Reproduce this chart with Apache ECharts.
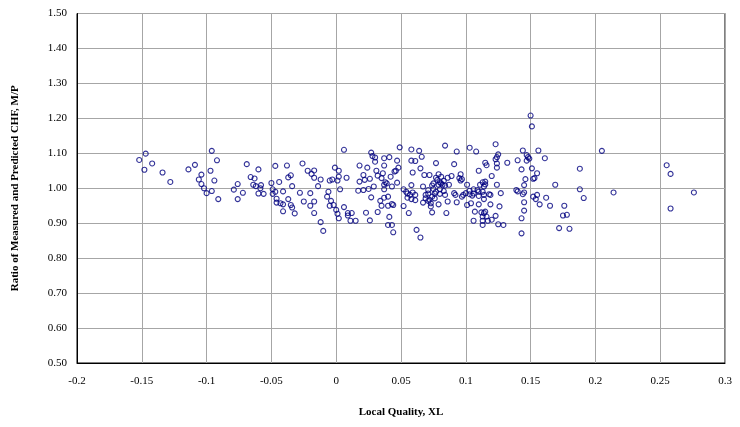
<!DOCTYPE html>
<html>
<head>
<meta charset="utf-8">
<script src="https://cdn.jsdelivr.net/npm/echarts@6/dist/echarts.min.js"></script>
<style>html,body{margin:0;padding:0;background:#fff}#c{width:740px;height:427px}</style>
</head>
<body>
<div id="c"></div>
<script>
// Local quality XL (x) and measured/predicted CHF ratio (y)
const xlValues = [
-0.152,-0.147,-0.148,-0.142,-0.134,-0.128,-0.114,-0.109,-0.104,-0.106,-0.104,-0.102,-0.100,-0.096,-0.092,-0.097,-0.094,-0.096,-0.091,-0.079,-0.076,-0.076,-0.072,-0.069,-0.066,-0.063,-0.064,-0.062,-0.060,-0.060,
-0.058,-0.0585,-0.056,-0.047,-0.050,-0.044,-0.049,-0.049,-0.047,-0.046,-0.046,-0.043,-0.041,-0.041,-0.041,-0.038,-0.035,-0.037,-0.034,-0.037,-0.035,-0.034,-0.032,-0.028,-0.026,-0.025,-0.022,-0.020,-0.020,-0.019,-0.017,-0.017,-0.012,-0.014,-0.017,-0.017,-0.012,-0.010,-0.006,-0.007,-0.005,-0.003,-0.004,-0.002,-0.005,-0.001,0.000,
0.006,0.002,0.002,0.001,0.003,0.001,0.002,0.006,0.008,0.009,0.009,0.012,0.011,0.015,0.018,0.018,0.017,0.021,0.021,0.022,0.024,0.025,0.026,0.023,0.026,0.027,0.027,0.028,0.030,0.030,0.029,0.031,0.032,0.032,0.035,0.034,0.035,0.036,0.037,0.037,0.038,0.037,0.039,0.037,0.037,0.041,0.041,0.040,0.042,0.040,0.043,0.044,0.040,0.043,0.044,0.043,0.047,0.046,0.045,0.048,0.047,0.049,
0.058,0.064,0.066,0.058,0.061,0.059,0.065,0.068,0.072,0.077,0.084,0.058,0.052,0.054,0.055,0.059,0.061,0.057,0.055,0.058,0.061,0.052,0.056,0.062,0.065,0.067,0.067,0.069,0.069,0.071,0.071,0.071,0.072,0.073,0.074,0.073,0.074,0.075,0.075,0.074,0.077,0.076,0.076,0.077,0.079,0.078,0.079,0.080,0.080,0.080,0.079,0.081,0.081,0.082,0.083,0.084,0.083,0.084,0.086,0.085,0.086,0.087,
0.093,0.103,0.108,0.091,0.089,0.096,0.095,0.097,0.096,0.101,0.091,0.092,0.093,0.097,0.098,0.100,0.103,0.106,0.109,0.103,0.105,0.106,0.110,0.113,0.114,0.110,0.111,0.113,0.115,0.114,0.115,0.118,0.110,0.115,0.116,0.101,0.104,0.110,0.114,0.107,0.112,0.114,0.115,0.113,0.116,0.117,0.113,0.106,0.113,
0.150,0.151,0.123,0.125,0.124,0.123,0.124,0.124,0.120,0.124,0.119,0.127,0.119,0.126,0.123,0.120,0.125,0.129,0.132,0.140,0.144,0.147,0.148,0.149,0.147,0.156,0.161,0.143,0.151,0.155,0.146,0.153,0.152,0.145,0.169,0.139,0.140,0.145,0.144,0.152,0.155,0.154,0.162,0.157,0.165,0.145,0.145,0.143,0.143,0.176,0.175,0.178,0.172,0.180,0.188,0.188,0.191,0.205,0.214,
0.255,0.258,0.258,0.276
];
const ratioValues = [
1.081,1.099,1.053,1.071,1.045,1.018,1.054,1.067,1.039,1.025,1.012,1.000,0.986,1.107,1.080,1.050,1.022,0.992,0.969,0.996,1.012,0.969,0.987,1.069,1.032,1.028,1.010,1.006,0.985,1.054,
1.009,1.000,0.984,1.064,1.015,1.018,0.997,0.984,0.990,0.970,0.959,0.957,0.991,0.954,0.934,1.065,1.037,1.031,1.006,0.969,0.952,0.945,0.928,0.987,1.071,0.962,1.050,0.986,0.950,1.041,1.051,1.030,1.025,1.006,0.962,0.929,0.903,0.878,0.990,0.976,1.022,1.025,0.964,0.952,0.950,1.059,0.938,
1.110,1.050,1.033,1.022,0.997,0.927,0.914,0.946,1.030,0.929,0.922,0.929,0.907,0.907,1.065,1.019,0.993,0.995,1.038,1.024,1.059,0.998,1.027,0.930,0.908,0.974,1.102,1.092,1.088,1.076,1.005,1.050,1.036,0.932,1.029,0.964,0.950,1.043,1.086,1.065,1.017,1.010,1.014,0.997,0.973,0.918,1.089,0.976,1.033,0.950,0.955,0.952,0.895,0.895,0.874,1.005,1.079,1.050,1.048,1.059,1.016,1.117,
1.111,1.107,1.090,1.079,1.078,1.045,1.057,1.038,1.038,1.072,1.122,1.009,0.997,0.990,0.985,0.988,0.981,0.981,0.973,0.969,0.966,0.949,0.929,0.881,0.859,1.005,0.959,0.981,0.971,0.995,0.985,0.964,0.967,0.957,0.976,0.948,0.931,0.998,1.014,1.008,0.990,0.985,0.971,1.030,1.040,1.024,1.010,1.017,0.997,0.984,0.954,1.033,1.014,1.010,1.021,1.008,0.992,0.981,0.962,0.929,1.030,1.010,
1.105,1.116,1.105,1.069,1.035,1.040,1.029,1.026,1.022,1.010,0.986,0.981,0.960,0.976,0.981,0.986,0.993,0.997,0.995,0.983,0.979,0.985,0.990,0.990,0.981,0.978,1.010,1.017,1.019,1.005,1.011,0.983,1.050,1.073,1.066,0.952,0.957,0.954,0.969,0.933,0.931,0.929,0.933,0.919,0.919,0.907,0.907,0.907,0.895,
1.208,1.177,1.126,1.097,1.089,1.083,1.071,1.059,1.035,1.010,0.981,0.986,0.954,0.948,0.921,0.910,0.897,0.895,1.073,1.080,1.108,1.095,1.089,1.085,1.079,1.108,1.086,1.054,1.057,1.043,1.026,1.029,1.027,1.009,1.010,0.995,0.991,0.988,0.983,0.976,0.981,0.969,0.973,0.954,0.950,0.960,0.936,0.914,0.871,0.950,0.922,0.924,0.886,0.884,1.056,0.997,0.972,1.107,0.988,
1.066,1.041,0.942,0.988
];
const xTickLabels = ['-0.2','-0.15','-0.1','-0.05','0','0.05','0.1','0.15','0.2','0.25','0.3'];
const yTickLabels = ['0.50','0.60','0.70','0.80','0.90','1.00','1.10','1.20','1.30','1.40','1.50'];
const xTitle = 'Local Quality, XL';
const yTitle = 'Ratio of Measured and Predicted CHF, M/P';

const points = xlValues.map((x, i) => [x, ratioValues[i]]);
const font = '"Liberation Serif", "Times New Roman", serif';
const chart = echarts.init(document.getElementById('c'), null, {renderer: 'canvas'});
chart.setOption({
  animation: false,
  backgroundColor: '#ffffff',
  grid: {left: 77, right: 15, top: 13.5, bottom: 64, show: true, borderColor: '#000', borderWidth: 1, backgroundColor: 'transparent'},
  xAxis: {
    type: 'value', min: -0.2, max: 0.3, interval: 0.05,
    name: xTitle, nameLocation: 'middle', nameGap: 44,
    nameTextStyle: {fontFamily: font, fontSize: 11, fontWeight: 'bold', color: '#000'},
    axisLine: {show: true, onZero: false, lineStyle: {color: '#000', width: 1}},
    axisTick: {show: false},
    axisLabel: {margin: 13, fontFamily: font, fontSize: 11, color: '#000',
      formatter: v => xTickLabels[Math.round((v + 0.2) / 0.05)]},
    splitLine: {show: true, lineStyle: {color: '#a6a6a6', width: 1}}
  },
  yAxis: {
    type: 'value', min: 0.5, max: 1.5, interval: 0.1,
    name: yTitle, nameLocation: 'middle', nameGap: 56, nameRotate: 90,
    nameTextStyle: {fontFamily: font, fontSize: 11, fontWeight: 'bold', color: '#000'},
    axisLine: {show: true, onZero: false, lineStyle: {color: '#000', width: 1}},
    axisTick: {show: false},
    axisLabel: {margin: 10, fontFamily: font, fontSize: 11, color: '#000',
      formatter: v => yTickLabels[Math.round((v - 0.5) / 0.1)]},
    splitLine: {show: true, lineStyle: {color: '#a6a6a6', width: 1}}
  },
  series: [{
    type: 'scatter', data: points, symbol: 'circle', symbolSize: 5,
    itemStyle: {color: 'rgba(255,255,255,0)', borderColor: '#000080', borderWidth: 1.1}
  }]
});
</script>
</body>
</html>
